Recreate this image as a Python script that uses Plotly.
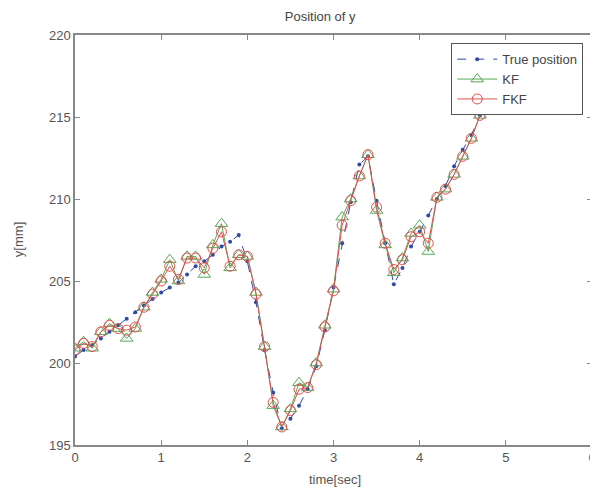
import plotly.graph_objects as go

time_sec = [round(0.1 * i, 1) for i in range(49)]

true_position = [200.4, 200.8, 201.1, 201.5, 201.9, 202.3, 202.7, 203.1, 203.5, 203.9,
                 204.3, 204.6, 204.9, 205.4, 205.9, 206.2, 206.6, 207.1, 207.4, 207.8,
                 206.2, 203.7, 200.8, 198.2, 196.0, 196.6, 197.4, 198.4, 199.8, 202.0,
                 204.6, 207.3, 209.8, 212.1, 212.6, 209.9, 207.3, 204.8, 205.8, 207.1,
                 208.0, 209.0, 210.0, 210.8, 212.0, 213.0, 213.9, 215.1, 215.7]

kf = [200.9, 201.3, 200.9, 201.9, 202.4, 202.1, 201.5, 202.1, 203.4, 204.3,
      205.1, 206.3, 205.0, 206.5, 206.5, 205.4, 207.2, 208.5, 205.8, 206.6,
      206.5, 204.3, 201.0, 197.4, 196.1, 197.2, 198.8, 198.5, 200.0, 202.3,
      204.5, 208.9, 210.0, 211.4, 212.7, 209.3, 207.2, 205.5, 206.4, 207.9,
      208.4, 206.8, 210.1, 210.6, 211.5, 212.6, 213.7, 215.1, 215.5]

fkf = [200.8, 201.2, 201.0, 201.9, 202.3, 202.1, 202.0, 202.2, 203.4, 204.2,
       205.0, 205.9, 205.1, 206.4, 206.4, 205.8, 207.0, 208.0, 205.9, 206.6,
       206.5, 204.2, 201.0, 197.6, 196.1, 197.1, 198.4, 198.5, 199.9, 202.2,
       204.4, 208.4, 209.9, 211.4, 212.7, 209.5, 207.3, 205.7, 206.3, 207.7,
       208.0, 207.3, 210.1, 210.6, 211.5, 212.6, 213.7, 215.1, 215.5]

x_ticks = [0, 1, 2, 3, 4, 5, 6]
y_ticks = [195, 200, 205, 210, 215, 220]

font_family = "Liberation Sans, Arial, sans-serif"
text_color = "#555555"

fig = go.Figure()
fig.add_trace(go.Scatter(
    x=time_sec, y=true_position, name="True position", mode="lines+markers",
    line=dict(color="#3048a8", width=1, dash="dash"),
    marker=dict(symbol="circle", size=4, color="#3048a8"),
))
fig.add_trace(go.Scatter(
    x=time_sec, y=kf, name="KF", mode="lines+markers",
    line=dict(color="#58a858", width=1),
    marker=dict(symbol="triangle-up-open", size=11, color="#58a858", line=dict(width=1)),
))
fig.add_trace(go.Scatter(
    x=time_sec, y=fkf, name="FKF", mode="lines+markers",
    line=dict(color="#e05050", width=1),
    marker=dict(symbol="circle-open", size=10, color="#e05050", line=dict(width=1)),
))

axis_common = dict(
    showgrid=False, zeroline=False, showline=True, linecolor="#888888", linewidth=1.5,
    mirror="ticks", ticks="inside", ticklen=5, tickcolor="#888888", automargin=False,
    tickfont=dict(family=font_family, size=13, color=text_color),
)

fig.update_xaxes(range=[0, 6], tickvals=x_ticks, ticktext=[str(v) for v in x_ticks],
                 **axis_common)
fig.update_yaxes(range=[195, 220], tickvals=y_ticks, ticktext=[str(v) for v in y_ticks],
                 **axis_common)

fig.add_annotation(text="y[mm]", xref="paper", yref="paper", x=-0.11, y=0.5,
                   xanchor="center", yanchor="middle", textangle=-90, showarrow=False,
                   font=dict(family=font_family, size=13, color=text_color))
fig.add_annotation(text="time[sec]", xref="paper", yref="paper", x=0.503, y=-0.085,
                   xanchor="center", yanchor="middle", showarrow=False,
                   font=dict(family=font_family, size=13, color=text_color))

fig.update_layout(
    width=598, height=489,
    margin=dict(l=67, r=14, t=27, b=52),
    paper_bgcolor="white", plot_bgcolor="white",
    title=dict(text="Position of y", x=0.522, xanchor="center", y=0.982, yanchor="middle",
               font=dict(family=font_family, size=13, color="#444444")),
    legend=dict(x=0.983, y=0.98, xanchor="right", yanchor="top",
                bgcolor="white", bordercolor="#555555", borderwidth=1,
                font=dict(family=font_family, size=13, color="#444444"),
                itemwidth=40, tracegroupgap=0),
    showlegend=True,
)

fig.write_html("out.html")
